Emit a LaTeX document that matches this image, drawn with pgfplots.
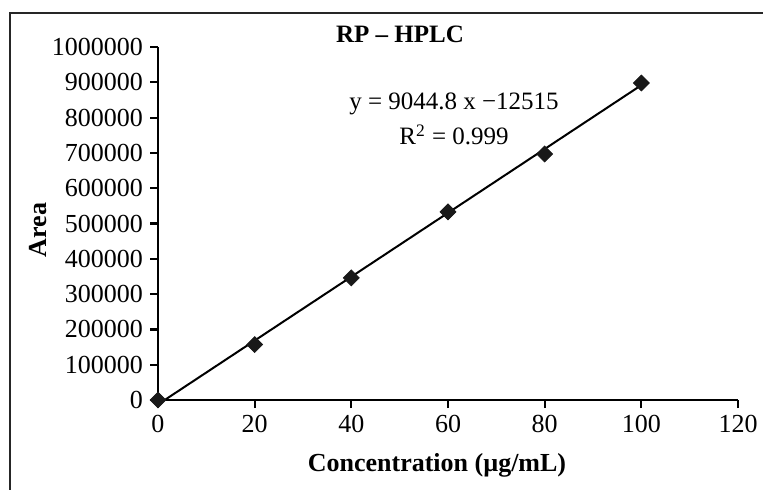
\documentclass[border=0pt]{standalone}
\usepackage{fontspec}
\setmainfont{Liberation Serif}
\usepackage{pgfplots}
\pgfplotsset{compat=1.18}
\begin{document}
\begin{tikzpicture}
\useasboundingbox (-79pt,-44.5pt) rectangle (302.5pt,200pt);
\fill[white] (-79pt,-44.5pt) rectangle (302.5pt,200pt);
\draw[line width=0.9pt, black!85] (-74pt,-45pt) -- (-74pt,193.5pt) -- (303pt,193.5pt);
\begin{axis}[
  at={(0,0)}, anchor=origin,
  scale only axis,
  width=290pt, height=176.5pt,
  xmin=0, xmax=120, ymin=0, ymax=1000000,
  axis x line=bottom, axis y line=left,
  axis line style={line width=1.2pt, -},
  xtick={0,20,40,60,80,100,120},
  ytick={0,100000,200000,300000,400000,500000,600000,700000,800000,900000,1000000},
  tick align=outside,
  major tick length=4pt,
  tick style={line width=1.1pt, black},
  scaled y ticks=false,
  /pgf/number format/assume math mode=true,
  yticklabel style={/pgf/number format/fixed, /pgf/number format/1000 sep={}, font=\fontsize{13}{15}\selectfont},
  xticklabel style={font=\fontsize{13}{15}\selectfont},
  clip=false,
]
\addplot[line width=1pt, black] coordinates {(1.384,0) (100,891965)};
\addplot[only marks, mark=square*, mark size=2.8pt, mark options={rotate=45, fill=black!90, draw=black!90}]
  coordinates {(0,0) (20,157000) (40,346000) (60,533000) (80,697000) (100,898000)};
\end{axis}
\node[font=\bfseries\fontsize{12.5}{15}\selectfont] at (121pt,183pt) {RP -- HPLC};
\node[font=\fontsize{12.5}{15}\selectfont] at (148pt,148pt) {y = 9044.8 x \textminus12515};
\node[font=\fontsize{12.5}{15}\selectfont] at (148pt,132.5pt) {R\textsuperscript{2} = 0.999};
\node[font=\bfseries\fontsize{13}{15}\selectfont, rotate=90] at (-60pt,85pt) {Area};
\node[font=\bfseries\fontsize{13}{15}\selectfont] at (139.5pt,-32.5pt) {Concentration (µg/mL)};
\end{tikzpicture}
\end{document}
